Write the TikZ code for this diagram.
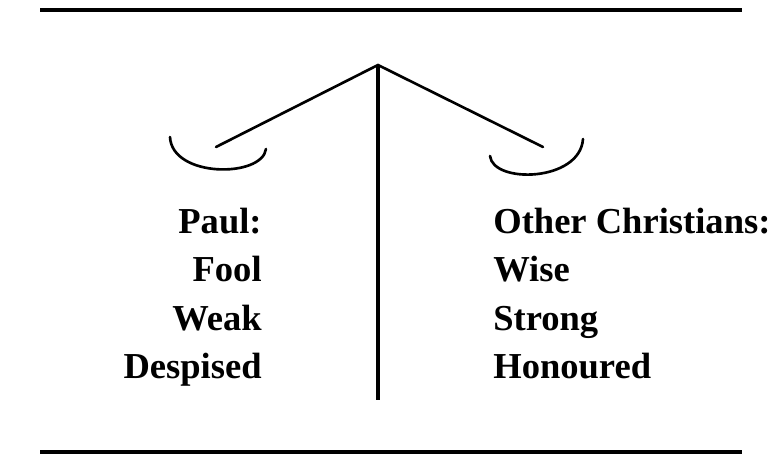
\documentclass[tikz,border=0pt]{standalone}
\usepackage{fontspec}
\setmainfont{Liberation Serif}
\tikzset{
  word/.style={font=\fontsize{20.8}{26}\selectfont\bfseries, inner sep=0pt},
  rule/.style={line width=1.9pt},
  beam/.style={line width=1.5pt, line cap=round},
}

\begin{document}
\begin{tikzpicture}[x=0.02cm, y=-0.02cm]
        \useasboundingbox (0,0) rectangle (772,462);
        \draw[rule] (40,10) -- (742,10);
        \draw[rule] (40,452) -- (742,452);
        \coordinate (apex) at (378,65);
        \coordinate (foot) at (378,400);
        \coordinate (leftend) at (216,147);
        \coordinate (rightend) at (543,147);
        \draw[rule] (apex) -- (foot);
        \draw[beam] (leftend) -- (apex) -- (rightend);
        \draw[beam] (170,137) .. controls (172,178) and (262,178) .. (266,149);
        \draw[beam] (490,156) .. controls (493,184) and (580,182) .. (583,139);
        \node[word, anchor=base east] (paul) at (262,234) {Paul:};
        \node[word, anchor=base east] (fool) at (262,282) {Fool};
        \node[word, anchor=base east] (weak) at (262,331) {Weak};
        \node[word, anchor=base east] (despised) at (262,379) {Despised};
        \node[word, anchor=base west] (others) at (493,234) {Other Christians:};
        \node[word, anchor=base west] (wise) at (493,282) {Wise};
        \node[word, anchor=base west] (strong) at (493,331) {Strong};
        \node[word, anchor=base west] (honoured) at (493,379) {Honoured};
    \end{tikzpicture}
\end{document}
